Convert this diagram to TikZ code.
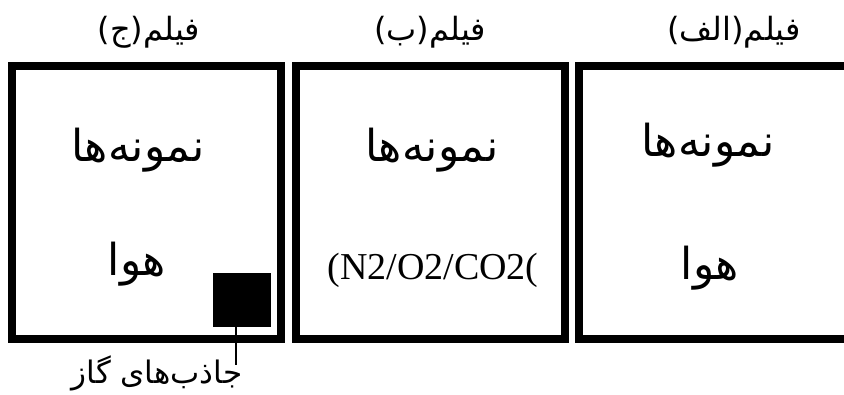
\documentclass[tikz,border=0pt]{standalone}
\usepackage{fontspec}
\newfontfamily\arabicfont[Script=Arabic]{DejaVu Sans}
\newfontfamily\serifgas{Liberation Serif}
\TeXXeTstate=1
\usepackage{tikz}
\usetikzlibrary{positioning}

\tikzset{
    film/.style={draw, line width=8pt, inner sep=0pt,
        minimum width=269pt, minimum height=273pt},
    title/.style={font=\arabicfont\fontsize{32}{36}\selectfont, inner sep=0pt},
    big/.style={font=\arabicfont\fontsize{44}{48}\selectfont, inner sep=0pt},
}

\begin{document}
\begin{tikzpicture}[x=1pt, y=-1pt]
        \pgfmathsetmacro\w{844}
        \pgfmathsetmacro\h{394}
        \useasboundingbox (0,0) rectangle (\w,\h);
        \clip (0,0) rectangle (\w,\h);
        \node[film] (filmC) at (146.5,202.5) {};
        \node[film] (filmB) at (430,202.5) {};
        \node[film] (filmA) at (713.5,202.5) {};
        \node[title] (titleC) at (149,32) {\beginR فیلم(ج)\endR};
        \node[title] (titleB) at (430,32) {\beginR فیلم(ب)\endR};
        \node[title] (titleA) at (734,32) {\beginR فیلم(الف)\endR};
        \node[big] (sampleC) at (138,150) {\beginR نمونه‌ها\endR};
        \node[big] (sampleB) at (432,150) {\beginR نمونه‌ها\endR};
        \node[big] (sampleA) at (708,145) {\beginR نمونه‌ها\endR};
        \node[big] (airC) at (137,264) {\beginR هوا\endR};
        \node[big] (airA) at (710,268) {\beginR هوا\endR};
        \node[font=\serifgas\fontsize{38}{42}\selectfont, inner sep=0pt]
            (gasB) at (433,270) {(N2/O2/CO2(};
        \node[fill, minimum width=58pt, minimum height=54pt, inner sep=0pt]
            (sorbent) at (242,300) {};
        \node[font=\arabicfont\fontsize{31}{34}\selectfont, inner sep=0pt]
            (sorbentlabel) at (157,373) {\beginR جاذب‌های گاز\endR};
        \coordinate (tip) at (236,365);
        \draw[line width=1.5pt] (sorbent.south -| tip) -- (tip);
    \end{tikzpicture}
\end{document}
